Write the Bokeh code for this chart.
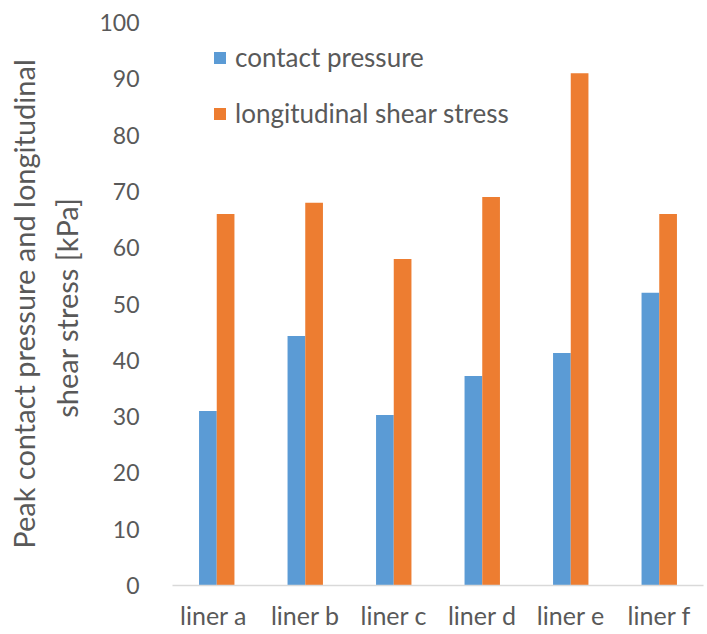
from bokeh.plotting import figure
from bokeh.models import FactorRange, Range1d, Legend, LegendItem, SingleIntervalTicker, ColumnDataSource
from bokeh.transform import dodge
from bokeh.embed import file_html
from bokeh.resources import INLINE

categories = ["liner  a", "liner b", "liner c", "liner d", "liner e", "liner f"]
contact_pressure = [31, 44.3, 30.3, 37.2, 41.3, 52]
shear_stress = [66, 68, 58, 69, 91, 66]
series_names = ["contact pressure", "longitudinal shear stress"]
colors = ["#5B9BD5", "#ED7D31"]

FONT = "Lato"
TXT = "#595959"

src = ColumnDataSource(dict(cat=categories, cp=contact_pressure, ss=shear_stress))

p = figure(x_range=FactorRange(*categories, range_padding=0),
           y_range=Range1d(0, 100),
           frame_width=531, frame_height=563,
           output_backend="svg", toolbar_location=None,
           min_border_left=172, min_border_top=22, min_border_right=2, min_border_bottom=44)
p.outline_line_color = None
p.grid.grid_line_color = None

r1 = p.vbar(x=dodge("cat", -0.1, range=p.x_range), top="cp", width=0.2, source=src,
            fill_color=colors[0], line_color=None)
r2 = p.vbar(x=dodge("cat", 0.1, range=p.x_range), top="ss", width=0.2, source=src,
            fill_color=colors[1], line_color=None)

p.yaxis.ticker = SingleIntervalTicker(interval=10)
p.yaxis.axis_line_color = None
p.yaxis.major_tick_line_color = None
p.yaxis.minor_tick_line_color = None
p.yaxis.major_label_standoff = 27
p.yaxis.major_label_text_font = FONT
p.yaxis.major_label_text_font_size = "23px"
p.yaxis.major_label_text_color = TXT
p.yaxis.axis_label = "Peak contact pressure and longitudinal\nshear stress  [kPa]"
p.yaxis.axis_label_text_font = FONT
p.yaxis.axis_label_text_font_size = "29px"
p.yaxis.axis_label_text_font_style = "normal"
p.yaxis.axis_label_text_color = TXT
p.yaxis.axis_label_text_align = "center"
p.yaxis.axis_label_text_line_height = 1.25
p.yaxis.axis_label_standoff = 12

p.xaxis.axis_label = None
p.xaxis.axis_line_color = "#D9D9D9"
p.xaxis.axis_line_width = 1.5
p.xaxis.major_tick_line_color = None
p.xaxis.minor_tick_line_color = None
p.xaxis.major_label_standoff = 8
p.xaxis.major_label_text_font = FONT
p.xaxis.major_label_text_font_size = "25px"
p.xaxis.major_label_text_color = TXT

legend = Legend(items=[LegendItem(label=series_names[0], renderers=[r1]),
                       LegendItem(label=series_names[1], renderers=[r2])],
                location=(40, 456), orientation="vertical")
legend.background_fill_alpha = 0
legend.border_line_color = None
legend.margin = 0
legend.padding = 0
legend.spacing = 24
legend.glyph_width = 15
legend.glyph_height = 15
legend.label_height = 31
legend.label_standoff = 8
legend.label_text_font = FONT
legend.label_text_font_size = "26px"
legend.label_text_color = TXT
p.add_layout(legend, "center")

open("out.html", "w").write(file_html(p, INLINE))
